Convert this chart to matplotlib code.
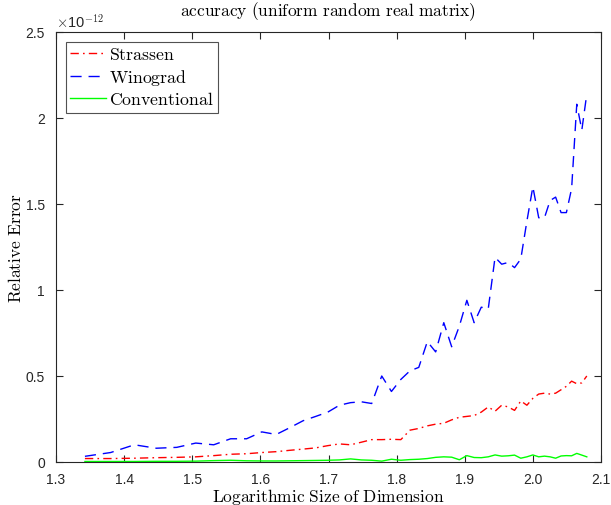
import numpy as np
import matplotlib
matplotlib.use("Agg")
import matplotlib.pyplot as plt
from matplotlib.ticker import FuncFormatter, MultipleLocator

# Matrix dimensions tested (x axis is log10 of these)
sizes = [22, 24, 26, 28, 30, 32, 34, 36, 38, 40,
         42, 44, 46, 48, 50, 52, 54, 56, 58, 60,
         62, 64, 66, 68, 70, 72, 74, 76, 78, 80,
         82, 84, 86, 88, 90, 92, 94, 96, 98, 100,
         102, 104, 106, 108, 110, 112, 114, 116, 118, 120]

# Relative errors, in units of 1e-12
strassen = [0.020, 0.020, 0.022, 0.025, 0.027, 0.030, 0.037, 0.045, 0.048, 0.055,
            0.060, 0.068, 0.075, 0.082, 0.095, 0.105, 0.100, 0.115, 0.130, 0.130,
            0.132, 0.130, 0.185, 0.195, 0.210, 0.220, 0.225, 0.245, 0.260, 0.265,
            0.270, 0.290, 0.320, 0.295, 0.330, 0.320, 0.300, 0.355, 0.330, 0.370,
            0.395, 0.400, 0.395, 0.400, 0.420, 0.440, 0.470, 0.455, 0.460, 0.500]

winograd = [0.033, 0.055, 0.100, 0.080, 0.085, 0.110, 0.100, 0.135, 0.135, 0.175,
            0.160, 0.200, 0.240, 0.265, 0.290, 0.330, 0.345, 0.350, 0.340, 0.500,
            0.410, 0.480, 0.530, 0.550, 0.700, 0.640, 0.810, 0.670, 0.790, 0.940,
            0.810, 0.900, 0.890, 1.190, 1.150, 1.160, 1.130, 1.180, 1.400, 1.600,
            1.420, 1.420, 1.520, 1.540, 1.450, 1.450, 1.590, 2.080, 1.930, 2.140]

conventional = [0.003, 0.003, 0.003, 0.004, 0.004, 0.005, 0.008, 0.010, 0.007, 0.006,
                0.006, 0.007, 0.008, 0.009, 0.010, 0.012, 0.018, 0.012, 0.010, 0.005,
                0.016, 0.010, 0.014, 0.016, 0.020, 0.027, 0.030, 0.028, 0.013, 0.037,
                0.026, 0.025, 0.030, 0.041, 0.034, 0.036, 0.040, 0.022, 0.030, 0.041,
                0.030, 0.034, 0.030, 0.022, 0.035, 0.037, 0.036, 0.050, 0.040, 0.030]

x = np.log10(sizes)

plt.rcParams['mathtext.fontset'] = 'cm'
plt.rcParams['font.family'] = ['Liberation Sans', 'DejaVu Sans']

fig = plt.figure(figsize=(6.11, 5.06), dpi=100)
ax = fig.add_axes([0.0917, 0.085, 0.8919, 0.8498])

ax.plot(x, strassen, color=(1, 0, 0), lw=1.0, linestyle=(0, (6, 3, 1.2, 3)),
        label=r'$\mathrm{Strassen}$')
ax.plot(x, winograd, color=(0, 0, 1), lw=1.0, linestyle=(0, (8, 5)),
        label=r'$\mathrm{Winograd}$')
ax.plot(x, conventional, color=(0, 1, 0), lw=1.0, linestyle='-',
        label=r'$\mathrm{Conventional}$')

ax.set_xlim(1.3, 2.1)
ax.set_ylim(0, 2.5)
ax.xaxis.set_major_locator(MultipleLocator(0.1))
ax.yaxis.set_major_locator(MultipleLocator(0.5))
ax.xaxis.set_major_formatter(FuncFormatter(lambda v, p: f"{v:.1f}"))
ax.yaxis.set_major_formatter(FuncFormatter(lambda v, p: f"{v:g}"))

axis_color = (0.15, 0.15, 0.15)
for s in ax.spines.values():
    s.set_color(axis_color)
    s.set_linewidth(0.8)
ax.tick_params(direction='in', length=5, width=0.8, top=True, right=True,
               colors=axis_color, labelsize=10)
ax.tick_params(axis='x', pad=7)
ax.tick_params(axis='y', pad=8)

ax.text(0.0, 1.005, r'$\times$10$^{-12}$', transform=ax.transAxes,
        fontsize=10.5, color=axis_color, ha='left', va='bottom')

ax.set_title(r'$\mathrm{accuracy\ (uniform\ random\ real\ matrix)}$',
             fontsize=12.5, pad=12)
ax.set_xlabel(r'$\mathrm{Logarithmic\ Size\ of\ Dimension}$', fontsize=12.5)
ax.set_ylabel(r'$\mathrm{Relative\ Error}$', fontsize=12.5)
ax.xaxis.set_label_coords(0.5, -0.055)
ax.yaxis.set_label_coords(-0.058, 0.5)

leg = ax.legend(loc='upper left', fontsize=12.8, frameon=True, fancybox=False,
                edgecolor=axis_color, handlelength=2.0, handletextpad=0.15,
                borderpad=0.25, labelspacing=0.22, borderaxespad=0.56)
leg.get_frame().set_linewidth(0.8)

fig.savefig('out.png', dpi=100, facecolor='white')
